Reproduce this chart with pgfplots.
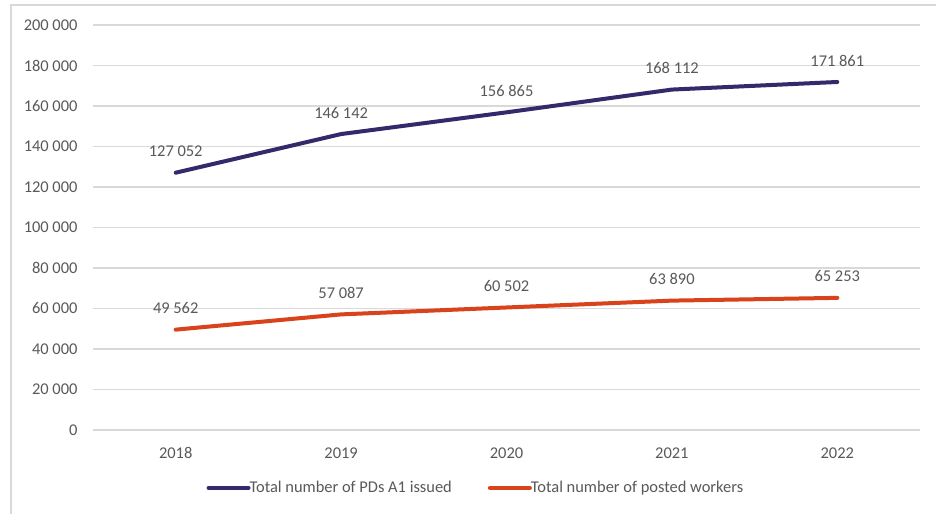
\documentclass[border=0pt]{standalone}
\usepackage{fontspec}
\setmainfont{Carlito}
\usepackage{pgfplots}
\pgfplotsset{compat=1.18}
\definecolor{cpurple}{HTML}{35296B}
\definecolor{corange}{HTML}{D8431B}
\definecolor{ctext}{HTML}{595959}
\definecolor{cgrid}{HTML}{D9D9D9}
\begin{document}
\begin{tikzpicture}
\useasboundingbox (0,0) rectangle (936bp,514bp);
\fill[white] (0,0) rectangle (936bp,514bp);
\draw[cgrid, line width=1.5bp] (11bp,0bp) -- (11bp,509bp) -- (936bp,509bp);
\begin{axis}[
  at={(93bp,84bp)}, anchor=south west,
  scale only axis, width=827bp, height=405bp,
  xmin=-0.5, xmax=4.5, ymin=0, ymax=200000,
  xtick={0,1,2,3,4}, xticklabels={2018,2019,2020,2021,2022},
  ytick={0,20000,40000,60000,80000,100000,120000,140000,160000,180000,200000},
  yticklabels={0,20 000,40 000,60 000,80 000,100 000,120 000,140 000,160 000,180 000,200 000},
  scaled y ticks=false,
  axis line style={draw=none}, tick style={draw=none},
  ymajorgrids, grid style={cgrid, line width=1.2bp},
  /pgf/number format/assume math mode=true,
  /pgf/number format/fixed,
  /pgf/number format/1000 sep={\hspace{0.226em}},
  /pgf/number format/precision=0,
  every tick label/.append style={text=ctext, font=\fontsize{16.5}{19}\selectfont},
  yticklabel style={xshift=-12bp},
  xticklabel style={yshift=-14bp},
  nodes near coords, every node near coord/.append style={text=ctext, font=\fontsize{16.5}{19}\selectfont, anchor=center, yshift=21.5bp},
  legend style={at={(0.463,-0.143)}, anchor=center, draw=none, fill=none, legend columns=2, font=\fontsize{16.5}{19}\selectfont, text=ctext, /tikz/every even column/.append style={column sep=34bp}, inner sep=0pt},
  legend image code/.code={\draw[#1, line width=4bp, line cap=round] (0bp,0bp) -- (40bp,0bp);},
  legend cell align=left,
]
\addplot[cpurple, line width=4bp, line cap=round, mark=none] coordinates {(0,127052) (1,146142) (2,156865) (3,168112) (4,171861)};
\addlegendentry{\hspace{-3bp}Total number of PDs A1 issued}
\addplot[corange, line width=4bp, line cap=round, mark=none] coordinates {(0,49562) (1,57087) (2,60502) (3,63890) (4,65253)};
\addlegendentry{\hspace{-3bp}Total number of posted workers}
\end{axis}
\end{tikzpicture}
\end{document}
